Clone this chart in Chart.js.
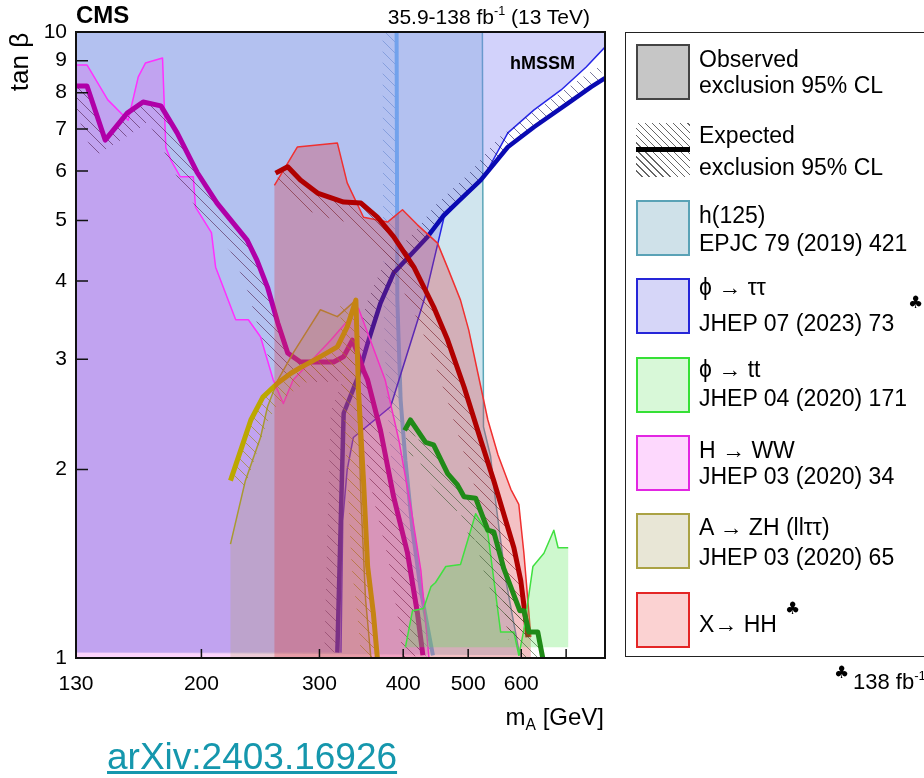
<!DOCTYPE html>
<html>
<head>
<meta charset="utf-8">
<title>hMSSM tan beta exclusion</title>
<script src="https://cdn.jsdelivr.net/npm/chart.js@4.4.1/dist/chart.umd.min.js"></script>
<style>
  body { margin: 0; background: #fff; }
  #wrap { position: relative; width: 924px; height: 778px; overflow: hidden;
          font-family: 'Liberation Sans', Arial, Helvetica, 'DejaVu Sans', sans-serif; color: #000; }
  #plot { position: absolute; left: 0; top: 0; }
  .t { position: absolute; white-space: nowrap; line-height: 1; }
  .leg { font-size: 23px; left: 699px; }
  .sw { position: absolute; left: 636px; width: 50px; height: 52px; border: 2px solid #444; }
  .club { font-family: 'DejaVu Sans', sans-serif; font-size: 17px; }
  sup { font-size: 60%; vertical-align: 0.7em; line-height: 0; }
  sub { font-size: 65%; vertical-align: -0.35em; line-height: 0; }
</style>
</head>
<body>
<div id="wrap">
  <canvas id="plot" width="924" height="778"></canvas>

  <div class="t" style="left:76px;top:3px;font-size:24px;font-weight:bold;">CMS</div>
  <div class="t" style="right:334px;top:6px;font-size:21px;">35.9-138 fb<sup>-1</sup> (13 TeV)</div>
  <div class="t" style="left:510px;top:54px;font-size:18px;font-weight:bold;">hMSSM</div>
  <div class="t" style="left:19px;top:62px;font-size:26px;transform:translate(-50%,-50%) rotate(-90deg);">tan β</div>
  <div class="t" style="right:320px;top:705px;font-size:24px;">m<sub>A</sub> [GeV]</div>

  <!-- legend -->
  <div style="position:absolute;left:625px;top:32px;width:320px;height:623px;border:1.5px solid #222;"></div>

  <div class="sw" style="top:44px;background:#c6c6c6;"></div>
  <div class="t leg" style="top:48px;">Observed</div>
  <div class="t leg" style="top:74px;">exclusion 95% CL</div>

  <div style="position:absolute;left:636px;top:123px;width:54px;height:54px;background:repeating-linear-gradient(45deg,transparent 0 4px,#666 4px 5px);"></div>
  <div style="position:absolute;left:636px;top:147px;width:54px;height:5px;background:#000;"></div>
  <div class="t leg" style="top:124px;">Expected</div>
  <div class="t leg" style="top:156px;">exclusion 95% CL</div>

  <div class="sw" style="top:200px;background:#cfe1e9;border-color:#5aa2b6;"></div>
  <div class="t leg" style="top:204px;">h(125)</div>
  <div class="t leg" style="top:232px;">EPJC 79 (2019) 421</div>

  <div class="sw" style="top:278px;background:#d6d6f8;border-color:#2626d8;"></div>
  <div class="t leg" style="top:276px;">ϕ → ττ</div>
  <div class="t leg" style="top:312px;">JHEP 07 (2023) 73</div>
  <div class="t club" style="left:908px;top:294px;">♣</div>

  <div class="sw" style="top:357px;background:#d8f8d8;border-color:#36e036;"></div>
  <div class="t leg" style="top:358px;">ϕ → tt</div>
  <div class="t leg" style="top:387px;">JHEP 04 (2020) 171</div>

  <div class="sw" style="top:435px;background:#fdd8fd;border-color:#e226e2;"></div>
  <div class="t leg" style="top:439px;">H → WW</div>
  <div class="t leg" style="top:465px;">JHEP 03 (2020) 34</div>

  <div class="sw" style="top:513px;background:#e8e6d6;border-color:#aaa244;"></div>
  <div class="t leg" style="top:516px;">A → ZH (llττ)</div>
  <div class="t leg" style="top:546px;">JHEP 03 (2020) 65</div>

  <div class="sw" style="top:592px;background:#fbd2d2;border-color:#e42626;"></div>
  <div class="t leg" style="top:613px;">X→ HH</div>
  <div class="t club" style="left:785px;top:600px;">♣</div>

  <div class="t club" style="left:834px;top:664px;">♣</div>
  <div class="t" style="left:853px;top:671px;font-size:22px;">138 fb<sup>-1</sup></div>

  <div class="t" style="left:107px;top:738px;font-size:37px;color:#1597ad;text-decoration:underline;">arXiv:2403.16926</div>
</div>

<script>
// axis ticks
const massTicks = [130, 200, 300, 400, 500, 600, 700];
const tanbTicks = [1, 2, 3, 4, 5, 6, 7, 8, 9, 10];
const massMin = 130, massMax = 800, tanbMin = 1, tanbMax = 10;
const floorTanb = 1.02;

// h(125) couplings
const h125ObsMass = [525, 527, 540, 549, 569, 597];
const h125ObsTanb = [10, 2.34, 2.10, 1.79, 1.33, 1.01];
const h125ExpMass = [391, 392, 396.5, 403, 413, 425, 443];
const h125ExpTanb = [10, 3.73, 2.58, 2.07, 1.60, 1.28, 1.01];

// phi -> tautau
const tauObsMass = [323, 325, 330, 337, 383, 410, 432, 450, 460, 527, 573, 627, 688, 750, 800];
const tauObsTanb = [1.02, 1.66, 2.00, 2.25, 2.52, 3.18, 3.80, 4.57, 5.05, 5.85, 6.90, 7.51, 8.08, 8.79, 9.46];
const tauExpMass = [319, 323, 326, 342, 354, 370, 387, 435, 460, 522, 573, 627, 705, 763, 800];
const tauExpTanb = [1.02, 1.70, 2.46, 2.80, 3.18, 3.69, 4.12, 4.71, 5.10, 5.80, 6.55, 7.05, 7.70, 8.17, 8.44];

// phi -> tt
const ttObsMass = [403, 413, 429, 440, 447, 463, 487, 513, 535, 559, 585, 595, 605.5, 624.5, 648.6, 671, 681, 705];
const ttObsTanb = [1.04, 1.19, 1.20, 1.30, 1.32, 1.40, 1.41, 1.70, 1.58, 1.10, 1.10, 1.01, 1.11, 1.40, 1.47, 1.60, 1.50, 1.50];
const ttExpMass = [402, 410, 432, 444, 466, 482, 493, 513, 535, 546, 565, 597, 605.5, 616, 635, 646];
const ttExpTanb = [2.31, 2.40, 2.21, 2.19, 1.97, 1.89, 1.81, 1.80, 1.60, 1.59, 1.39, 1.19, 1.19, 1.10, 1.10, 1.0];

// H -> WW
const wwObsMass = [130, 135, 145, 155.5, 161, 165, 175, 177, 180, 186, 194.5, 196, 207, 210, 225, 235, 245, 256, 265, 274, 312, 343, 376, 394, 410, 425, 437];
const wwObsTanb = [8.86, 8.86, 7.79, 7.23, 8.48, 8.92, 9.09, 6.53, 6.25, 5.87, 5.87, 5.25, 4.78, 4.21, 3.47, 3.47, 3.26, 2.78, 2.55, 2.78, 3.22, 3.62, 2.78, 2.23, 1.76, 1.38, 1.0];
const wwExpMass = [130, 135, 143.7, 155, 163.7, 174, 184, 197, 211, 234, 242, 251, 260, 269, 281, 298, 315, 326, 336, 342, 349, 354, 370, 387, 406, 420, 428];
const wwExpTanb = [8.20, 8.20, 6.72, 7.42, 7.73, 7.62, 6.90, 5.97, 5.33, 4.65, 4.32, 3.91, 3.43, 3.07, 2.97, 2.97, 2.97, 3.03, 3.22, 3.07, 2.88, 2.78, 2.31, 1.81, 1.47, 1.18, 1.01];

// A -> ZH (ll tautau)
const zhObsMass = [221, 232.6, 245, 251, 260, 274, 288, 301, 319, 340, 342, 346, 351.5, 358];
const zhObsTanb = [1.52, 1.92, 2.25, 2.52, 2.78, 3.07, 3.34, 3.60, 3.51, 3.73, 2.68, 1.79, 1.24, 1.0];
const zhExpMass = [221, 229, 237, 247, 260, 272, 281, 301, 319, 330, 340, 343, 349, 354, 361, 366];
const zhExpTanb = [1.92, 2.15, 2.40, 2.61, 2.75, 2.85, 2.91, 3.03, 3.14, 3.38, 3.73, 2.68, 1.92, 1.40, 1.18, 1.0];

// X -> HH
const hhObsMass = [257, 278, 319, 330, 349, 379, 399, 420, 450, 466, 487, 501, 517, 535, 554, 579, 595, 605.5, 616, 620];
const hhObsTanb = [5.69, 6.55, 6.65, 5.74, 5.06, 4.97, 5.20, 4.92, 4.60, 4.20, 3.73, 3.34, 2.85, 2.40, 2.11, 1.86, 1.76, 1.47, 1.18, 1.08];
const hhExpMass = [258, 269, 281, 298, 326, 346, 366, 387, 415, 444, 466, 493, 522, 546, 585, 599, 614];
const hhExpTanb = [5.95, 6.09, 5.80, 5.53, 5.35, 5.33, 5.06, 4.71, 4.21, 3.64, 3.22, 2.71, 2.23, 1.92, 1.50, 1.33, 1.08];

const pts = (m, t) => m.map((x, i) => ({x, y: t[i]}));

// observed exclusion areas, closed along the plot edges
const h125Region = [{x: massMin, y: floorTanb}, {x: massMin, y: tanbMax}, ...pts(h125ObsMass, h125ObsTanb)];
const tauRegion = [{x: massMin, y: floorTanb}, ...pts(tauObsMass, tauObsTanb), {x: massMax, y: tanbMax}, {x: massMin, y: tanbMax}];
const ttRegion = [...pts(ttObsMass, ttObsTanb), {x: ttObsMass[ttObsMass.length - 1], y: ttObsTanb[0]}];
const wwRegion = [...pts(wwObsMass, wwObsTanb), {x: massMin, y: tanbMin}];
const zhRegion = [...pts(zhObsMass, zhObsTanb), {x: zhObsMass[0], y: tanbMin}];
const hhRegion = [{x: hhObsMass[0], y: tanbMin}, ...pts(hhObsMass, hhObsTanb), {x: hhObsMass[hhObsMass.length - 1], y: tanbMin}];

function region(data, color, order) {
  return {data, order, backgroundColor: color, borderWidth: 0, showLine: true,
          pointRadius: 0, tension: 0, fill: 'shape'};
}
function curve(data, color, width, order, hatch) {
  return {data, order, borderColor: color, borderWidth: width, showLine: true,
          pointRadius: 0, tension: 0, fill: false, borderJoinStyle: 'round', hatch};
}

// hatched band on one side of the expected contours
const hatchBands = {
  id: 'hatchBands',
  beforeDatasetDraw(chart, args) {
    const ds = chart.data.datasets[args.index];
    if (!ds.hatch) return;
    const {ctx, chartArea: a} = chart;
    const p = args.meta.data.map(e => ({x: e.x, y: e.y}));
    const w = ds.hatch.width * ds.hatch.side;
    const off = p.map((q, k) => {
      const p0 = p[Math.max(k - 1, 0)], p1 = p[Math.min(k + 1, p.length - 1)];
      const dx = p1.x - p0.x, dy = p1.y - p0.y, len = Math.hypot(dx, dy) || 1;
      return {x: q.x - dy / len * w, y: q.y + dx / len * w};
    });
    ctx.save();
    ctx.beginPath();
    ctx.rect(a.left, a.top, a.width, a.height);
    ctx.clip();
    ctx.beginPath();
    p.forEach((q, k) => k ? ctx.lineTo(q.x, q.y) : ctx.moveTo(q.x, q.y));
    for (let k = off.length - 1; k >= 0; k--) ctx.lineTo(off[k].x, off[k].y);
    ctx.closePath();
    ctx.clip();
    ctx.strokeStyle = ds.hatch.color;
    ctx.lineWidth = 1;
    ctx.beginPath();
    for (let c = a.left - a.height; c < a.right; c += 11) {
      ctx.moveTo(c, a.top);
      ctx.lineTo(c + a.height, a.bottom);
    }
    ctx.stroke();
    ctx.restore();
  }
};

// frame and inward tick marks
const frame = {
  id: 'frame',
  afterDatasetsDraw(chart) {
    const {ctx, chartArea: a, scales} = chart;
    ctx.save();
    ctx.strokeStyle = '#111';
    ctx.lineWidth = 1.5;
    ctx.beginPath();
    tanbTicks.forEach(v => {
      const y = scales.y.getPixelForValue(v);
      ctx.moveTo(a.left, y);
      ctx.lineTo(a.left + 12, y);
    });
    massTicks.slice(1).forEach(v => {
      const x = scales.x.getPixelForValue(v);
      ctx.moveTo(x, a.bottom);
      ctx.lineTo(x, a.bottom - 9);
    });
    ctx.stroke();
    ctx.lineWidth = 2;
    ctx.strokeRect(a.left, a.top, a.width, a.height);
    ctx.restore();
  }
};

const tickFont = {family: "'Liberation Sans', Arial, Helvetica, sans-serif", size: 21};

new Chart(document.getElementById('plot'), {
  type: 'scatter',
  data: {
    datasets: [
      region(h125Region, 'rgba(120,180,205,0.35)', 40),
      curve(pts(h125ObsMass, h125ObsTanb), '#5ba6b8', 1.5, 39),
      curve(pts(h125ExpMass, h125ExpTanb), '#6ab4e8', 4, 38, {side: 1, width: 14, color: 'rgba(90,140,190,0.6)'}),

      region(tauRegion, 'rgba(130,130,245,0.36)', 37),
      curve(pts(tauObsMass, tauObsTanb), '#2626e6', 1.5, 36),
      curve(pts(tauExpMass, tauExpTanb), '#0a0ab2', 4.5, 35, {side: -1, width: 13, color: 'rgba(30,30,90,0.6)'}),

      region(wwRegion, 'rgba(240,60,240,0.22)', 31),
      curve(pts(wwObsMass, wwObsTanb), '#ff30ff', 1.5, 30),
      curve(pts(wwExpMass, wwExpTanb), '#b000a8', 5, 29, {side: 1, width: 20, color: 'rgba(80,30,80,0.6)'}),

      region(zhRegion, 'rgba(170,160,60,0.2)', 28),
      curve(pts(zhObsMass, zhObsTanb), '#a89a30', 1.5, 27),
      curve(pts(zhExpMass, zhExpTanb), '#bca800', 5, 26, {side: 1, width: 16, color: 'rgba(160,140,40,0.7)'}),

      region(hhRegion, 'rgba(220,50,60,0.3)', 25),
      curve(pts(hhObsMass, hhObsTanb), '#f03030', 1.5, 24),
      curve(pts(hhExpMass, hhExpTanb), '#b00000', 5, 23, {side: 1, width: 20, color: 'rgba(120,30,40,0.6)'}),

      region(ttRegion, 'rgba(80,230,80,0.28)', 22),
      curve(pts(ttObsMass, ttObsTanb), '#40e040', 1.5, 21),
      curve(pts(ttExpMass, ttExpTanb), '#208a18', 5, 20, {side: 1, width: 20, color: 'rgba(60,90,50,0.6)'})
    ]
  },
  options: {
    responsive: false,
    animation: false,
    devicePixelRatio: 1,
    events: [],
    layout: {padding: {left: 0, top: 32, right: 319, bottom: 80}},
    plugins: {legend: {display: false}, tooltip: {enabled: false}},
    scales: {
      x: {
        type: 'logarithmic',
        min: massMin,
        max: massMax,
        afterBuildTicks: s => { s.ticks = massTicks.map(value => ({value})); },
        afterFit: s => { s.height = 40; },
        grid: {display: false, drawTicks: false},
        border: {display: false},
        ticks: {
          autoSkip: false, maxRotation: 0, padding: 14, color: '#000', font: tickFont,
          callback: v => (v === 700 ? '' : String(v))
        }
      },
      y: {
        type: 'logarithmic',
        min: tanbMin,
        max: tanbMax,
        afterBuildTicks: s => { s.ticks = tanbTicks.map(value => ({value})); },
        afterFit: s => { s.width = 76; },
        grid: {display: false, drawTicks: false},
        border: {display: false},
        ticks: {autoSkip: false, padding: 9, color: '#000', font: tickFont, callback: v => String(v)}
      }
    }
  },
  plugins: [hatchBands, frame]
});
</script>
</body>
</html>
